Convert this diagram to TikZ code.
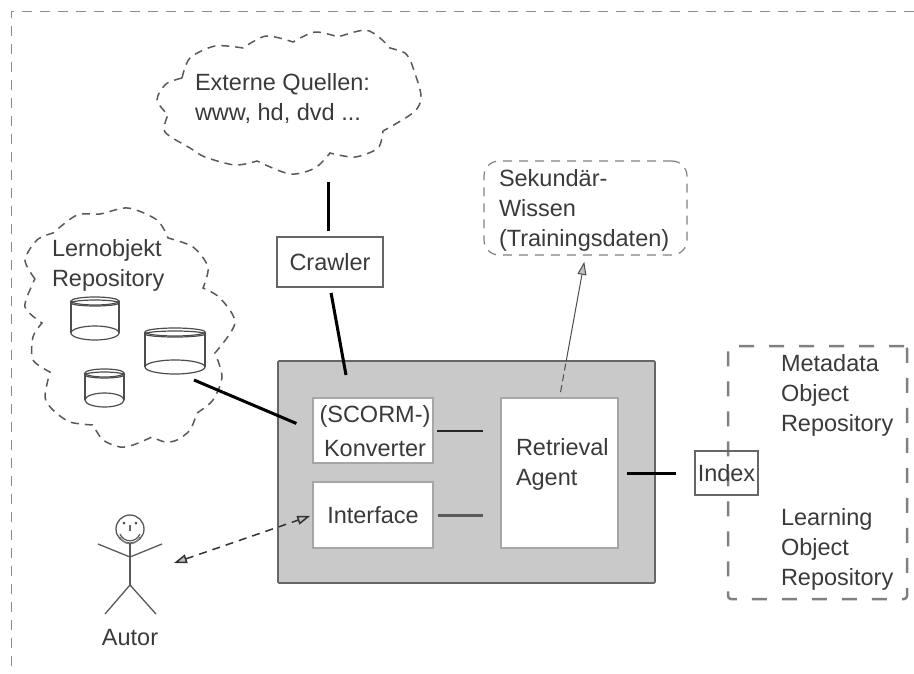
\documentclass[tikz,border=0pt]{standalone}
\usepackage{fontspec}
\setmainfont{Liberation Sans}
\usetikzlibrary{
    arrows.meta,
    calc
}
\definecolor{panel gray}{HTML}{C9C9C9}
\definecolor{ink gray}{HTML}{3A3A3A}
\tikzset{
    % Boxes
    panel/.style={rectangle,draw=black!60,fill=panel gray,line width=1.6pt,rounded corners=1pt,inner sep=0pt,outer sep=0pt},
    inner box/.style={rectangle,draw=black!35,fill=white,line width=1.6pt,inner sep=0pt,outer sep=0pt,text=ink gray,align=center},
    plain box/.style={rectangle,draw=black!60,line width=1.4pt,inner sep=0pt,outer sep=0pt,text=ink gray},
    dashed frame/.style={draw=black!50,line width=1.2pt,dash pattern=on 9pt off 7pt},
    wide dashed frame/.style={rectangle,draw=black!50,line width=2.5pt,dash pattern=on 15pt off 15pt,rounded corners=3pt,inner sep=0pt,outer sep=0pt},
    label/.style={inner sep=0pt,outer sep=0pt,align=left,anchor=west,text=ink gray},
    %
    % Lines
    cloud line/.style={draw=black!65,line width=1.5pt,dash pattern=on 8pt off 6pt},
    can line/.style={draw=black!70,line width=1.2pt},
    flow line/.style={black,line width=3pt},
    thin flow/.style={black!85,line width=2pt},
    %
    % Arrows
    open tip/.tip={Triangle[open,length=13pt,width=9pt,fill=black!25]},
    barr/.style={<->,>={open tip},black!80,line width=1.5pt,dash pattern=on 8pt off 6pt},
    sarr/.style={->,>={open tip},black!70,line width=1pt}
}
\tikzstyle{every node}=[font=\fontsize{23.5}{30}\selectfont]
% left, top, width, height
\newcommand{\dbcan}[4]{
    \draw[can line] (#1,#2+4) -- (#1,#2+#4-7);
    \draw[can line] (#1+#3,#2+4) -- (#1+#3,#2+#4-7);
    \draw[can line] (#1+#3/2,#2+4) ellipse [x radius=#3/2,y radius=4];
    \draw[can line] (#1+#3/2,#2+6) ellipse [x radius=#3/2,y radius=3];
    \draw[can line] (#1+#3/2,#2+#4-7) ellipse [x radius=#3/2,y radius=7];
}
\begin{document}
\begin{tikzpicture}[x=1pt,y=-1pt]
        \useasboundingbox (0,0) rectangle (914,673);
        \draw[black!45,line width=1pt,dash pattern=on 10pt off 8pt] (11,666) -- (11,11) -- (914,11);

        % sources cloud
        \draw[cloud line] plot[smooth] coordinates {(182,78) (190,58) (215,46) (243,48)}
            -- plot[smooth] coordinates {(243,48) (266,36) (293,42)}
            -- plot[smooth] coordinates {(293,42) (315,32) (338,37)}
            -- plot[smooth] coordinates {(338,37) (365,30) (380,38) (390,48)}
            -- plot[smooth] coordinates {(390,48) (405,53) (411,62)}
            -- plot[smooth] coordinates {(411,62) (421,95) (414,112) (383,131)}
            -- plot[smooth] coordinates {(383,131) (378,148) (355,157) (330,153)}
            -- plot[smooth] coordinates {(330,153) (315,168) (290,174) (257,161)}
            -- plot[smooth] coordinates {(257,161) (235,165) (205,157) (190,148) (165,132) (168,115)}
            -- plot[smooth] coordinates {(168,115) (157,100) (166,84) (182,78)};
        \node[label] (quellen) at (195,98) {Externe Quellen:\\www, hd, dvd ...};

        % repository cloud
        \draw[cloud line] plot[smooth] coordinates {(35,279) (25,260) (37,240) (53,233)}
            -- plot[smooth] coordinates {(53,233) (77,215) (100,214) (128,208) (157,220) (168,238)}
            -- plot[smooth] coordinates {(168,238) (193,247) (208,267) (203,288)}
            -- plot[smooth] coordinates {(203,288) (220,298) (235,323) (215,353)}
            -- plot[smooth] coordinates {(215,353) (222,377) (213,400) (197,413)}
            -- plot[smooth] coordinates {(197,413) (190,430) (177,440) (165,442) (152,437)}
            -- plot[smooth] coordinates {(152,437) (133,445) (120,447) (103,440) (93,425)}
            -- plot[smooth] coordinates {(93,425) (70,422) (53,410) (45,397) (50,372)}
            -- plot[smooth] coordinates {(50,372) (33,360) (33,337) (42,323)}
            -- plot[smooth] coordinates {(42,323) (25,307) (33,283) (35,279)};
        \node[label] (lernobjekt) at (52,265) {Lernobjekt\\Repository};
        \dbcan{71}{297}{48}{43}
        \dbcan{145}{328}{60}{46}
        \dbcan{85}{369}{39}{38}

        % system
        \node[panel,minimum width=377pt,minimum height=222pt] (system) at (466.5,472) {};
        \node[inner box,minimum width=120pt,minimum height=65pt] (konverter) at (373,430.5) {};
        \node[inner sep=0pt,align=center,text=ink gray] (konverterText) at (375,431) {(SCORM-)\\[4pt]Konverter};
        \node[inner box,minimum width=120pt,minimum height=66pt] (interface) at (373,515) {Interface};
        \node[inner box,minimum width=117pt,minimum height=150pt] (agent) at (559.5,473) {};
        \node[label] (agentText) at (516,464) {Retrieval\\Agent};

        \node[plain box,minimum width=106pt,minimum height=50pt] (crawler) at (330,262) {Crawler};
        \node[rectangle,dashed frame,rounded corners=15pt,minimum width=203pt,minimum height=94pt,inner sep=0pt,outer sep=0pt] (wissen) at (585.5,208) {};
        \node[label] (wissenText) at (499,210) {Sekundär-\\Wissen\\(Trainingsdaten)};

        \node[wide dashed frame,minimum width=179pt,minimum height=253pt] (store) at (817.5,472.5) {};
        \node[plain box,minimum width=63pt,minimum height=44pt] (index) at (726.5,473) {Index};
        \node[label] (metadata) at (781,395) {Metadata\\Object\\Repository};
        \node[label] (learning) at (781,549) {Learning\\Object\\Repository};

        % author
        \draw[black!65,line width=1.3pt] (130,529) circle (14);
        \fill[black!70] (124,523) circle (1.5) (136,523) circle (1.5);
        \draw[black!60,line width=1.5pt] (130,525) -- (130,531);
        \draw[black!65,line width=1.2pt] (120,534) .. controls (124,543) and (136,543) .. (140,534);
        \draw[black!50,line width=1.2pt] (120,537) .. controls (124,546) and (136,546) .. (140,537);
        \draw[black!65,line width=1.5pt] (130,543) -- (130,585);
        \draw[black!65,line width=1.3pt] (98,544) -- (130,557) -- (162,544);
        \draw[black!65,line width=1.3pt] (105,614) -- (130,585) -- (156,614);
        \node[inner sep=0pt,text=ink gray] (autor) at (130,638) {Autor};

        % connectors
        \coordinate (quellenFoot) at (328,182);
        \coordinate (crawlerFoot) at (346,375);
        \coordinate (repoFoot) at (194,380);
        \coordinate (autorEnd) at (174,563);
        \draw[flow line,shorten >=6pt] (quellenFoot) -- (quellenFoot |- crawler.north);
        \draw[flow line,shorten <=6pt] (crawler.south) -- (crawlerFoot);
        \draw[flow line,shorten >=18pt] (repoFoot) -- (konverter.west);
        \draw[thin flow,shorten <=4pt,shorten >=18pt] (konverter.east) -- (konverter.east -| agent.west);
        \draw[thin flow,black!65,line width=3pt,shorten <=5pt,shorten >=18pt] (interface.east) -- (interface.east -| agent.west);
        \draw[flow line,shorten <=9pt,shorten >=19pt] (agent.east) -- (index.west);
        \draw[barr,shorten >=3pt] (autorEnd) -- (interface.west);
        \path (agent.north) -- (wissen.south) coordinate[pos=.257] (agentExit);
        \draw[black!70,line width=1pt,dash pattern=on 7pt off 4pt,shorten <=6pt] (agent.north) -- (agentExit);
        \draw[sarr,shorten >=7pt] (agentExit) -- (wissen.south);
    \end{tikzpicture}
\end{document}
